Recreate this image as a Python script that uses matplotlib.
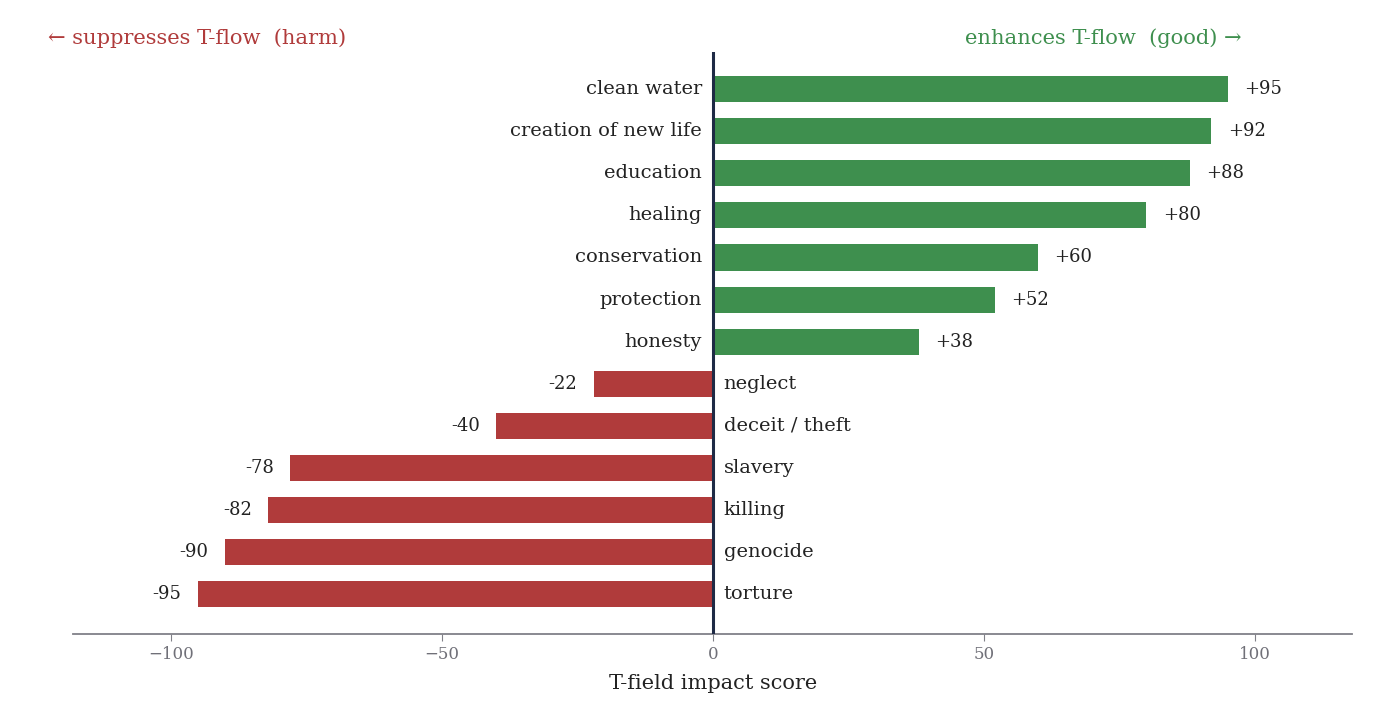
import matplotlib
matplotlib.use("Agg")
import matplotlib.pyplot as plt

categories = ["clean water", "creation of new life", "education", "healing",
              "conservation", "protection", "honesty", "neglect",
              "deceit / theft", "slavery", "killing", "genocide", "torture"]
scores = [95, 92, 88, 80, 60, 52, 38, -22, -40, -78, -82, -90, -95]

GOOD = "#3e8f4e"
BAD = "#b03b3b"
INK = "#222222"

plt.rcParams["font.family"] = "DejaVu Serif"

fig = plt.figure(figsize=(13.8, 7.2), dpi=100)
ax = fig.add_axes([0.053, 0.1195, 0.927, 0.808])

ypos = list(range(len(categories)))
colors = [GOOD if s > 0 else BAD for s in scores]
ax.barh(ypos, scores, height=0.62, color=colors, zorder=2)
ax.axvline(0, color="#1e2a45", lw=2.2, zorder=3)

for y, name, s in zip(ypos, categories, scores):
    if s > 0:
        ax.text(-2, y, name, ha="right", va="center", fontsize=14, color=INK)
        ax.text(s + 3, y, f"+{s}", ha="left", va="center", fontsize=13, color=INK)
    else:
        ax.text(2, y, name, ha="left", va="center", fontsize=14, color=INK)
        ax.text(s - 3, y, f"{s}", ha="right", va="center", fontsize=13, color=INK)

ax.set_xlim(-118, 118)
ax.set_ylim(len(categories) - 1 + 0.95, -0.88)
ax.set_yticks([])
ax.set_xticks([-100, -50, 0, 50, 100])
ax.tick_params(axis="x", colors="#808088", labelcolor="#707078", labelsize=12, length=5)
for side in ["top", "right", "left"]:
    ax.spines[side].set_visible(False)
ax.spines["bottom"].set_color("#808088")
ax.spines["bottom"].set_linewidth(1.3)
ax.set_xlabel("T-field impact score", fontsize=15, color=INK, labelpad=8)

fig.text(0.035, 0.947, "\u2190 suppresses T-flow  (harm)", ha="left", va="center",
         fontsize=15.1, color=BAD)
fig.text(0.900, 0.947, "enhances T-flow  (good) \u2192", ha="right", va="center",
         fontsize=15.1, color=GOOD)

fig.savefig("out.png", dpi=100)
